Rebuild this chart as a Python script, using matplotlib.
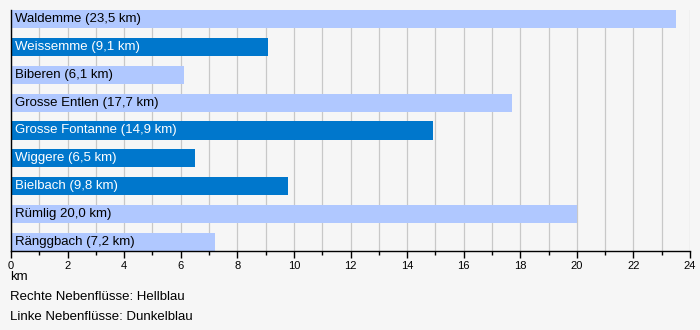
import numpy as np
import matplotlib
matplotlib.use('Agg')
import matplotlib.pyplot as plt
from matplotlib.ticker import MultipleLocator

# Data
rivers = ['Waldemme (23,5 km)', 'Weissemme (9,1 km)', 'Biberen (6,1 km)',
          'Grosse Entlen (17,7 km)', 'Grosse Fontanne (14,9 km)', 'Wiggere (6,5 km)',
          'Bielbach (9,8 km)', 'Rümlig 20,0 km)', 'Ränggbach (7,2 km)']
lengths = [23.5, 9.1, 6.1, 17.7, 14.9, 6.5, 9.8, 20.0, 7.2]
side = ['R', 'L', 'R', 'R', 'L', 'L', 'L', 'R', 'R']  # R = rechts (hell), L = links (dunkel)
notes = ['km', 'Rechte Nebenflüsse: Hellblau', 'Linke Nebenflüsse: Dunkelblau']

LIGHT = '#b0c8ff'
DARK = '#0077cc'
BG = '#f6f6f6'

plt.rcParams['font.family'] = ['Liberation Sans', 'DejaVu Sans']

fig = plt.figure(figsize=(7, 3.3), dpi=100, facecolor=BG)
ax = fig.add_axes([11/700, 1-251/330, 679/700, 241/330])
ax.set_facecolor(BG)

h = 0.65
y = np.arange(len(rivers))
colors = [LIGHT if s == 'R' else DARK for s in side]
ax.barh(y, lengths, height=h, color=colors, zorder=2)

#Labels inside the bars
for yi, name, s in zip(y, rivers, side):
    ax.text(0.14, yi, name, va='center', ha='left', fontsize=9.5,
            color='white' if s == 'L' else 'black', zorder=3)

ax.set_xlim(0, 24)
ax.set_ylim(len(rivers) - 1 + h/2, -h/2)
ax.xaxis.set_major_locator(MultipleLocator(2))
ax.xaxis.set_minor_locator(MultipleLocator(1))
ax.grid(axis='x', which='both', color='#c8c8c8', lw=0.9, zorder=1)
ax.set_yticks([])
ax.tick_params(axis='x', which='major', length=5, width=1, labelsize=8, pad=2)
ax.tick_params(axis='x', which='minor', length=3, width=1)
for sp in ['top', 'right']:
    ax.spines[sp].set_visible(False)
ax.spines['left'].set_linewidth(1)
ax.spines['bottom'].set_linewidth(1)

#Notes below the axis
fig.text(10/700, 1-277/330, notes[0], fontsize=9.5, va='center', ha='left')
fig.text(10/700, 1-297/330, notes[1], fontsize=9.5, va='center', ha='left')
fig.text(10/700, 1-317/330, notes[2], fontsize=9.5, va='center', ha='left')

plt.savefig('out.png', dpi=100, facecolor=BG)
